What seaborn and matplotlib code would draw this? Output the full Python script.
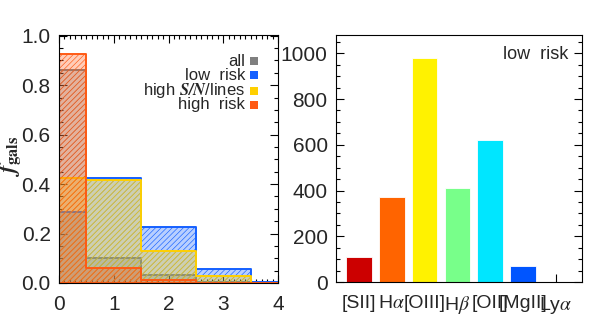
import numpy as np
import pandas as pd
import seaborn as sns
import matplotlib
matplotlib.use("Agg")
import matplotlib.pyplot as plt
from matplotlib.ticker import MultipleLocator, FormatStrFormatter
from matplotlib.patches import Rectangle

sns.set_theme(style="white")
plt.rcParams['font.family'] = ['Liberation Sans', 'DejaVu Sans']
plt.rcParams['mathtext.fontset'] = 'stix'
plt.rcParams['hatch.linewidth'] = 0.45

# ---- data: left panel (fraction of galaxies vs number of lines with S/N>5)
n_lines = [0, 1, 2, 3, 4]
bin_edges = [-0.5, 0.5, 1.5, 2.5, 3.5, 4.5]
frac_all = [0.861, 0.103, 0.033, 0.005, 0.0]
frac_low = [0.287, 0.423, 0.226, 0.056, 0.003]
frac_hsn = [0.423, 0.416, 0.130, 0.028, 0.0]
frac_high = [0.925, 0.062, 0.012, 0.002, 0.001]

series_names = ["all", "low  risk", "high $\\mathbfit{S/N}$/lines", "high  risk"]
series_colors = ["#7f7f7f", "#1560ff", "#ffd000", "#ff5a14"]

# ---- data: right panel (low risk line counts)
lines = ["[SII]", "H$\\alpha$", "[OIII]", "H$\\beta$", "[OII]", "[MgII]", "Ly$\\alpha$"]
counts = [109, 371, 981, 409, 619, 72, 0]
bar_colors = ["#cc0000", "#ff6400", "#fff200", "#78ff8a", "#00e6ff", "#0055ff", "#ffffff"]

fig = plt.figure(figsize=(5.98, 3.18), dpi=100)
axL = fig.add_axes([59/598, 1-283/318, 219/598, 248/318])
axR = fig.add_axes([336/598, 1-282/318, 246/598, 247/318])

fs = 15
for ser, col in zip([frac_all, frac_low, frac_hsn, frac_high], series_colors):
    n_before = len(axL.collections)
    sns.histplot(x=n_lines, weights=ser, bins=bin_edges, element="step", fill=True,
                 color=col, alpha=0.3, linewidth=1.4, ax=axL)
    for c in axL.collections[n_before:]:
        c.set_hatch("//////")
        c.set_edgecolor(col)

axL.set_xlim(0, 4)
axL.set_ylim(0, 1.003)
axL.xaxis.set_major_locator(MultipleLocator(1))
axL.xaxis.set_minor_locator(MultipleLocator(0.1))
axL.yaxis.set_major_locator(MultipleLocator(0.2))
axL.yaxis.set_minor_locator(MultipleLocator(0.05))
axL.yaxis.set_major_formatter(FormatStrFormatter('%.1f'))
axL.tick_params(which="both", direction="in", top=True, right=True, bottom=True, left=True,
                labelsize=fs, color="black")
axL.tick_params(which="major", length=6, width=0.8, pad=6)
axL.tick_params(which="minor", length=3, width=0.8)
axL.tick_params(axis="x", pad=9)
axL.set_ylabel("$\\mathbfit{f}_{\\mathbf{gals}}$", fontsize=17)
axL.yaxis.set_label_coords(-0.165, 0.51)
axL.set_xlabel("$\\mathbfit{N}_{\\mathbf{lines}}$ ($\\mathbfit{S/N}$>5)", fontsize=15, labelpad=3)

# legend: right-aligned labels with colour squares
ys = [0.895, 0.838, 0.776, 0.718]
sq_w, sq_h = 8/219, 8/248
for name, col, yy in zip(series_names, series_colors, ys):
    axL.text(0.85, yy, name, transform=axL.transAxes, ha="right", va="center", fontsize=12)
    axL.add_patch(Rectangle((0.872, yy - sq_h/2), sq_w, sq_h, transform=axL.transAxes,
                            facecolor=col, edgecolor="none"))

# right panel
df = pd.DataFrame({"line": lines, "count": counts})
sns.barplot(data=df, x="line", y="count", hue="line", palette=bar_colors, legend=False,
            width=0.78, saturation=1, edgecolor="#ffffff", linewidth=0.6, ax=axR)
axR.set_xlim(-0.7, 6.8)
axR.set_ylim(0, 1080)
axR.yaxis.set_major_locator(MultipleLocator(200))
axR.yaxis.set_minor_locator(MultipleLocator(50))
axR.tick_params(which="both", direction="in", left=True, right=True, bottom=True, top=False,
                labelsize=fs, color="black")
axR.tick_params(which="major", length=6, width=0.8, pad=6)
axR.tick_params(which="minor", length=3, width=0.8)
axR.tick_params(axis="x", pad=9, labelsize=14)
axR.set_xlabel("")
axR.set_ylabel("")
axR.text(0.945, 0.92, "low  risk", transform=axR.transAxes, ha="right", va="center", fontsize=13)

for ax in (axL, axR):
    for s in ax.spines.values():
        s.set_visible(True)
        s.set_color("black")
        s.set_linewidth(0.8)

fig.savefig("out.png", dpi=100)
